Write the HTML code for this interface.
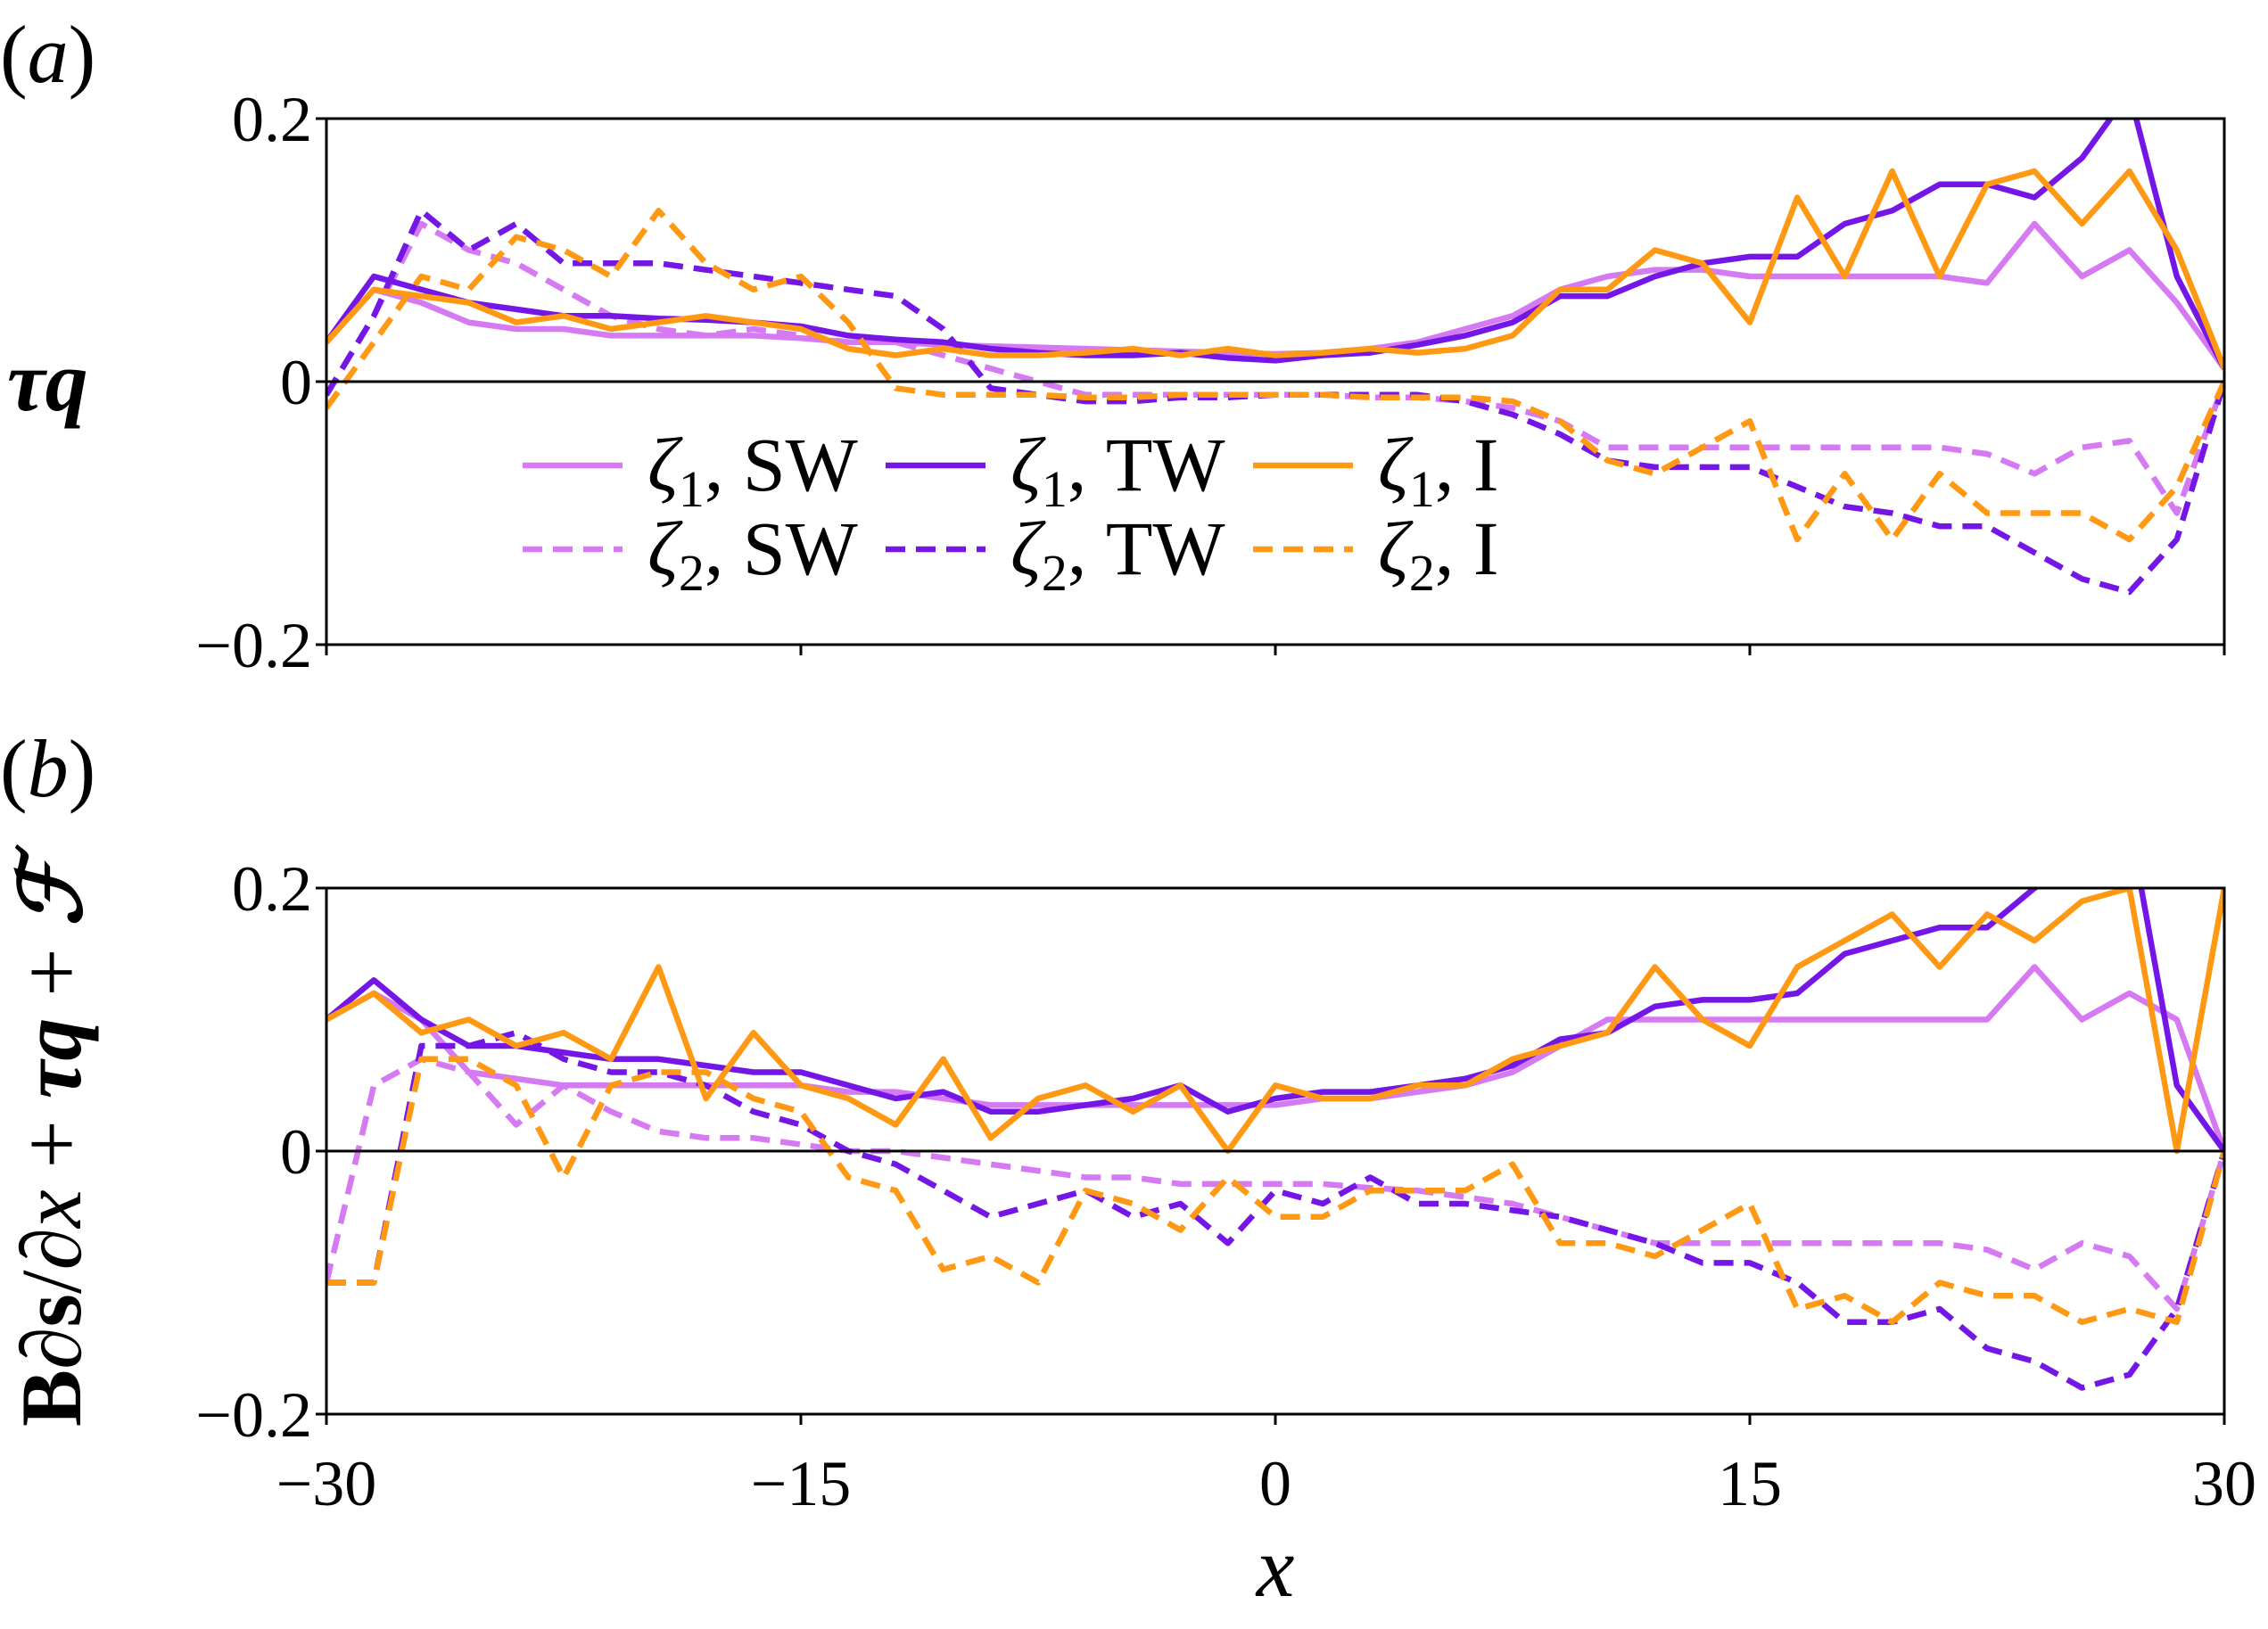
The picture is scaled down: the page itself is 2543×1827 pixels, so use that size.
<!DOCTYPE html>
<html><head><meta charset="utf-8">
<style>
html,body{margin:0;padding:0;background:#fff;}
svg{display:block;font-family:"Liberation Serif",serif;}
</style></head>
<body>
<svg id="chart" width="2543" height="1827" viewBox="0 0 2543 1827" xmlns="http://www.w3.org/2000/svg">
<defs>
<clipPath id="clipA"><rect x="366" y="133" width="2128" height="590"/></clipPath>
<clipPath id="clipB"><rect x="366" y="996" width="2128" height="590"/></clipPath>
</defs>
<g id="root"></g>
</svg>
<script>
const xGrid = [-30,-28.5,-27,-25.5,-24,-22.5,-21,-19.5,-18,-16.5,-15,-13.5,-12,-10.5,-9,-7.5,-6,-4.5,-3,-1.5,0,1.5,3,4.5,6,7.5,9,10.5,12,13.5,15,16.5,18,19.5,21,22.5,24,25.5,27,28.5,30];
const xTicks = [-30,-15,0,15,30];
const xTickLabels = ["\u221230","\u221215","0","15","30"];
const yTicks = [0.2,0,-0.2];
const yTickLabels = ["0.2","0","\u22120.2"];
// panel a
const aSW1 = [.03,.07,.06,.045,.04,.04,.035,.035,.035,.035,.033,.03,.03,.028,.027,.026,.025,.024,.023,.022,.021,.022,.025,.03,.04,.05,.07,.08,.085,.085,.08,.08,.08,.08,.08,.075,.12,.08,.1,.06,.01];
const aTW1 = [.03,.08,.07,.06,.055,.05,.05,.048,.047,.045,.042,.035,.032,.03,.025,.022,.02,.02,.022,.018,.016,.02,.022,.028,.035,.045,.065,.065,.08,.09,.095,.095,.12,.13,.15,.15,.14,.17,.22,.08,.01];
const aI1 = [.03,.07,.065,.06,.045,.05,.04,.045,.05,.045,.04,.025,.02,.025,.02,.02,.022,.025,.02,.025,.02,.022,.025,.022,.025,.035,.07,.07,.1,.09,.045,.14,.08,.16,.08,.15,.16,.12,.16,.1,.01];
const aSW2 = [-.01,.05,.12,.1,.09,.07,.05,.04,.035,.04,.035,.03,.03,.02,.01,0,-.01,-.01,-.01,-.01,-.01,-.01,-.012,-.012,-.015,-.02,-.03,-.05,-.05,-.05,-.05,-.05,-.05,-.05,-.05,-.055,-.07,-.05,-.045,-.1,0];
const aTW2 = [-.01,.05,.13,.1,.12,.09,.09,.09,.085,.08,.075,.07,.065,.04,-.005,-.01,-.015,-.015,-.012,-.012,-.01,-.01,-.01,-.01,-.015,-.025,-.04,-.06,-.065,-.065,-.065,-.08,-.095,-.1,-.11,-.11,-.13,-.15,-.16,-.12,0];
const aI2 = [-.02,.03,.08,.07,.11,.1,.08,.13,.09,.07,.08,.045,-.005,-.01,-.01,-.01,-.012,-.012,-.01,-.01,-.01,-.01,-.012,-.012,-.012,-.015,-.03,-.06,-.07,-.05,-.03,-.12,-.07,-.12,-.07,-.1,-.1,-.1,-.12,-.08,0];
// panel b
const bSW1 = [.1,.12,.1,.06,.055,.05,.05,.05,.05,.05,.05,.045,.045,.04,.035,.035,.035,.035,.035,.035,.035,.04,.04,.045,.05,.06,.08,.1,.1,.1,.1,.1,.1,.1,.1,.1,.14,.1,.12,.1,0];
const bTW1 = [.1,.13,.1,.08,.08,.075,.07,.07,.065,.06,.06,.05,.04,.045,.03,.03,.035,.04,.05,.03,.04,.045,.045,.05,.055,.065,.085,.09,.11,.115,.115,.12,.15,.16,.17,.17,.2,.22,.25,.05,0];
const bI1 = [.1,.12,.09,.1,.08,.09,.07,.14,.04,.09,.05,.04,.02,.07,.01,.04,.05,.03,.05,0,.05,.04,.04,.05,.05,.07,.08,.09,.14,.1,.08,.14,.16,.18,.14,.18,.16,.19,.2,0,.2];
const bSW2 = [-.1,.05,.07,.06,.02,.05,.03,.015,.01,.01,.005,0,0,-.005,-.01,-.015,-.02,-.02,-.025,-.025,-.025,-.025,-.028,-.03,-.035,-.04,-.05,-.06,-.07,-.07,-.07,-.07,-.07,-.07,-.07,-.075,-.09,-.07,-.08,-.12,0];
const bTW2 = [-.1,-.1,.08,.08,.09,.07,.06,.06,.05,.03,.02,0,-.01,-.03,-.05,-.04,-.03,-.05,-.04,-.07,-.03,-.04,-.02,-.04,-.04,-.045,-.05,-.06,-.07,-.085,-.085,-.1,-.13,-.13,-.12,-.15,-.16,-.18,-.17,-.12,0];
const bI2 = [-.1,-.1,.07,.07,.05,-.02,.05,.06,.06,.04,.03,-.02,-.03,-.09,-.08,-.1,-.03,-.04,-.06,-.02,-.05,-.05,-.03,-.03,-.03,-.01,-.07,-.07,-.08,-.06,-.04,-.12,-.11,-.13,-.1,-.11,-.11,-.13,-.12,-.13,0];

const NS = "http://www.w3.org/2000/svg";
const root = document.getElementById('root');
const X0 = 366, X1 = 2494;
function xs(v){ return X0 + (v + 30) / 60 * (X1 - X0); }
function mk(tag, attrs, parent){
  const e = document.createElementNS(NS, tag);
  for (const k in attrs) e.setAttribute(k, attrs[k]);
  (parent || root).appendChild(e);
  return e;
}
const C_SW = "#d57af2", C_TW = "#7417e6", C_I = "#ff9812";
const panels = [
  {top:133, bot:723, clip:"clipA", name:"panel-a", series:[[aSW1,C_SW,false,"sw-zeta1"],[aSW2,C_SW,true,"sw-zeta2"],[aTW1,C_TW,false,"tw-zeta1"],[aTW2,C_TW,true,"tw-zeta2"],[aI1,C_I,false,"i-zeta1"],[aI2,C_I,true,"i-zeta2"]]},
  {top:996, bot:1586, clip:"clipB", name:"panel-b", series:[[bSW1,C_SW,false,"sw-zeta1"],[bSW2,C_SW,true,"sw-zeta2"],[bTW1,C_TW,false,"tw-zeta1"],[bTW2,C_TW,true,"tw-zeta2"],[bI1,C_I,false,"i-zeta1"],[bI2,C_I,true,"i-zeta2"]]}
];
panels.forEach(p => {
  const ys = v => p.top + (0.2 - v) / 0.4 * (p.bot - p.top);
  const g = mk('g', {});
  
  
  const sg = mk('g', {'clip-path':'url(#'+p.clip+')'}, g);
  p.series.forEach(s => {
    let d = '';
    s[0].forEach((v,i) => { d += (i ? 'L' : 'M') + xs(xGrid[i]).toFixed(1) + ',' + ys(v).toFixed(1); });
    const path = mk('path', {d:d, fill:'none', stroke:s[1], 'stroke-width':6.5, 'stroke-linejoin':'round', 'stroke-dasharray': s[2] ? '22,12' : 'none'}, sg);
    
    
  });
  const zl = mk('line', {x1:X0, x2:X1, y1:ys(0), y2:ys(0), stroke:'#000', 'stroke-width':3}, g);
  
  
  const fr = mk('rect', {x:X0, y:p.top, width:X1-X0, height:p.bot-p.top, fill:'none', stroke:'#000', 'stroke-width':3}, g);
  
  
  yTicks.forEach((t,i) => {
    mk('line', {x1:X0-12, x2:X0, y1:ys(t), y2:ys(t), stroke:'#000', 'stroke-width':3}, g);
    const tx = mk('text', {x:350, y:ys(t)+25, 'text-anchor':'end', 'font-size':72}, g);
    tx.textContent = yTickLabels[i];
    
    
  });
  xTicks.forEach((t,i) => {
    mk('line', {x1:xs(t), x2:xs(t), y1:p.bot, y2:p.bot+12, stroke:'#000', 'stroke-width':3}, g);
    if (p.name === 'panel-b') {
      const tx = mk('text', {x:xs(t), y:1688, 'text-anchor':'middle', 'font-size':72}, g);
      tx.textContent = xTickLabels[i];
      
      
    }
  });
});
// legend
const legend = mk('g', {});


const legItems = [
  [586,522,C_SW,false,"\u03B6","1",", SW"],[993,522,C_TW,false,"\u03B6","1",", TW"],[1405,522,C_I,false,"\u03B6","1",", I"],
  [586,616,C_SW,true,"\u03B6","2",", SW"],[993,616,C_TW,true,"\u03B6","2",", TW"],[1405,616,C_I,true,"\u03B6","2",", I"]
];
legItems.forEach(it => {
  const eg = mk('g', {}, legend);
  
  
  mk('line', {x1:it[0], x2:it[0]+112, y1:it[1], y2:it[1], stroke:it[2], 'stroke-width':6.5, 'stroke-dasharray': it[3] ? '22,12' : 'none'}, eg);
  const t = mk('text', {x:it[0]+140, y:it[1]+28, 'font-size':86}, eg);
  t.innerHTML = '<tspan font-style="italic">'+it[4]+'</tspan><tspan font-size="58" dy="18">'+it[5]+'</tspan><tspan dy="-18">'+it[6]+'</tspan>';
});
</script>
<svg style="position:absolute;left:0;top:0" width="2543" height="1827" xmlns="http://www.w3.org/2000/svg">
<text x="0" y="92" font-family="Liberation Serif" font-size="92">(<tspan font-style="italic">a</tspan>)</text>
<text x="0" y="893" font-family="Liberation Serif" font-size="92">(<tspan font-style="italic">b</tspan>)</text>
<text x="8" y="460" font-family="Liberation Serif" font-size="96" font-weight="bold" font-style="italic">τq</text>
<text transform="translate(90,1282) rotate(-90)" text-anchor="middle" font-family="Liberation Serif" font-size="96"><tspan font-weight="bold">B</tspan>∂<tspan font-weight="bold">s</tspan>/∂<tspan font-style="italic">x</tspan> + <tspan font-weight="bold" font-style="italic">τq</tspan> + <tspan font-weight="bold" font-style="italic">ℱ</tspan></text>
<text x="1430" y="1790" text-anchor="middle" font-family="Liberation Serif" font-size="96" font-style="italic">x</text>
</svg>
</body></html>
